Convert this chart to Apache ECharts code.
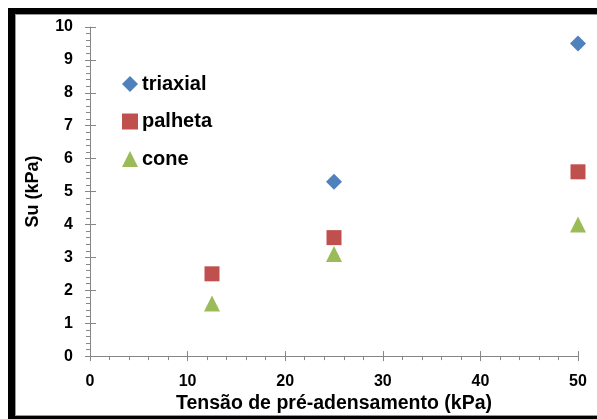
<!DOCTYPE html>
<html><head><meta charset="utf-8">
<script src="https://cdn.jsdelivr.net/npm/echarts@6/dist/echarts.min.js"></script>
<style>html,body{margin:0;padding:0;background:#fff}#c{width:597px;height:419px}</style>
</head><body><div id="c"></div>
<script>
const seriesNames = ['triaxial', 'palheta', 'cone'];
const triaxial = [[25, 5.3], [50, 9.5]];
const palheta = [[12.5, 2.5], [25, 3.6], [50, 5.6]];
const cone = [[12.5, 1.6], [25, 3.1], [50, 4.0]];
const xName = 'Tensão de pré-adensamento (kPa)';
const yName = 'Su (kPa)';

const FONT = '"Liberation Sans", Arial, sans-serif';
const chart = echarts.init(document.getElementById('c'));
const axisColor = '#868686';
const lbl = {color: '#000', fontWeight: 'bold', fontSize: 16, fontFamily: FONT};
chart.setOption({
  animation: false,
  backgroundColor: '#fff',
  graphic: [
    {type: 'rect', shape: {x: 8, y: 8, width: 589, height: 6}, style: {fill: '#000'}},
    {type: 'rect', shape: {x: 8, y: 8, width: 7, height: 411}, style: {fill: '#000'}},
    {type: 'rect', shape: {x: 8, y: 416, width: 589, height: 3}, style: {fill: '#000'}},
    {type: 'rect', shape: {x: 15, y: 14, width: 582, height: 1}, style: {fill: '#999'}},
    {type: 'rect', shape: {x: 15, y: 14, width: 1, height: 402}, style: {fill: '#999'}},
    {type: 'rect', shape: {x: 15, y: 415, width: 582, height: 1}, style: {fill: '#999'}}
  ],
  grid: {left: 90, right: 19, top: 27, bottom: 59},
  legend: {
    orient: 'vertical', left: 117, top: 69, itemGap: 17.5, itemWidth: 16, itemHeight: 16,
    textStyle: {color: '#000', fontWeight: 'bold', fontSize: 20, fontFamily: FONT, padding: [0, 0, 0, -1]},
    data: seriesNames
  },
  xAxis: [{
    type: 'value', min: 0, max: 50, interval: 10,
    name: xName, nameLocation: 'middle', nameGap: 37,
    nameTextStyle: {color: '#000', fontWeight: 'bold', fontSize: 19.5, fontFamily: FONT},
    axisLine: {show: true, lineStyle: {color: axisColor, width: 1}},
    axisTick: {show: true, length: 5, lineStyle: {color: axisColor}},
    minorTick: {show: true, splitNumber: 5, length: 4, lineStyle: {color: axisColor}},
    splitLine: {show: false},
    axisLabel: Object.assign({margin: 17}, lbl)
  }, {
    type: 'value', min: 0, max: 50, interval: 10, position: 'bottom',
    axisLine: {show: false},
    axisTick: {show: true, inside: true, length: 5, lineStyle: {color: axisColor}},
    splitLine: {show: false}, axisLabel: {show: false}
  }],
  yAxis: [{
    type: 'value', min: 0, max: 10, interval: 1,
    name: yName, nameLocation: 'middle', nameGap: 48, nameRotate: 90,
    nameTextStyle: {color: '#000', fontWeight: 'bold', fontSize: 18, fontFamily: FONT},
    axisLine: {show: true, lineStyle: {color: axisColor, width: 1}},
    axisTick: {show: true, length: 5, lineStyle: {color: axisColor}},
    minorTick: {show: true, splitNumber: 5, length: 4, lineStyle: {color: axisColor}},
    splitLine: {show: false},
    axisLabel: Object.assign({margin: 17}, lbl)
  }, {
    type: 'value', min: 0, max: 10, interval: 1, position: 'left',
    axisLine: {show: false},
    axisTick: {show: true, inside: true, length: 6, lineStyle: {color: axisColor}},
    splitLine: {show: false}, axisLabel: {show: false}
  }],
  series: [
    {name: 'triaxial', type: 'scatter', symbol: 'diamond', symbolSize: 16, data: triaxial, itemStyle: {color: '#4F81BD', opacity: 1}},
    {name: 'palheta', type: 'scatter', symbol: 'rect', symbolSize: 15, data: palheta, itemStyle: {color: '#C0504D', opacity: 1}},
    {name: 'cone', type: 'scatter', symbol: 'triangle', symbolSize: 16, data: cone, itemStyle: {color: '#9BBB59', opacity: 1}}
  ]
});
</script></body></html>
